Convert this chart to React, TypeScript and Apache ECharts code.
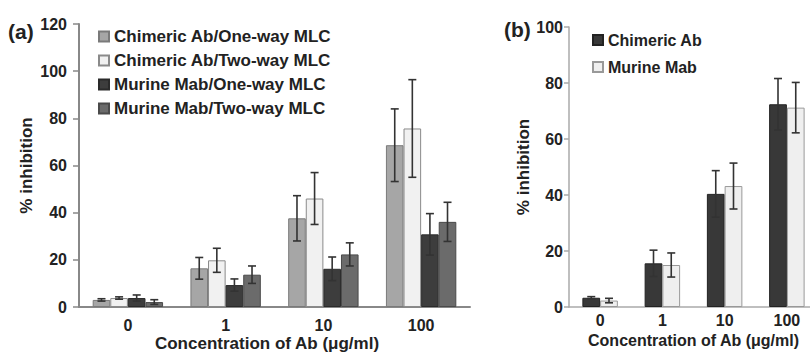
import React, { useEffect, useRef } from "react";
import * as echarts from "echarts";

const categories = ["0", "1", "10", "100"];

// Panel (a)
const chimericOneWay = [3.0, 16.4, 37.6, 68.6];
const chimericOneWayErr = [0.5, 4.6, 9.6, 15.4];
const chimericTwoWay = [3.8, 19.8, 46.0, 75.7];
const chimericTwoWayErr = [0.5, 5.1, 11.0, 20.7];
const murineOneWay = [3.8, 9.3, 16.2, 30.8];
const murineOneWayErr = [1.3, 2.6, 5.0, 8.8];
const murineTwoWay = [2.1, 13.7, 22.3, 36.1];
const murineTwoWayErr = [1.0, 3.7, 4.9, 8.3];

// Panel (b)
const chimericAb = [3.3, 15.6, 40.4, 72.4];
const chimericAbErr = [0.4, 4.7, 8.3, 9.2];
const murineMab = [2.3, 15.0, 43.2, 71.2];
const murineMabErr = [0.8, 4.3, 8.2, 9.0];

const FONT = "'Liberation Sans', Arial, Helvetica, sans-serif";
const TXT = "#222";

function errSeries(
  name: string,
  values: number[],
  errs: number[],
  idx: number,
  count: number,
  widthFrac: number,
  axisIndex: number
) {
  return {
    type: "custom",
    name,
    xAxisIndex: axisIndex,
    yAxisIndex: axisIndex,
    silent: true,
    z: 10,
    data: values.map((v, i) => [i, v - errs[i], v + errs[i]]),
    renderItem: (params: any, api: any) => {
      const ci = api.value(0);
      const band = api.size([1, 0])[0];
      const bw = band * widthFrac;
      const hi = api.coord([ci, api.value(2)]);
      const lo = api.coord([ci, api.value(1)]);
      const x = hi[0] + (idx - (count - 1) / 2) * bw;
      const cap = 4;
      const style = { stroke: "#333", lineWidth: 1.6, fill: "none" };
      return {
        type: "group",
        children: [
          { type: "line", shape: { x1: x, y1: hi[1], x2: x, y2: lo[1] }, style },
          { type: "line", shape: { x1: x - cap, y1: hi[1], x2: x + cap, y2: hi[1] }, style },
          { type: "line", shape: { x1: x - cap, y1: lo[1], x2: x + cap, y2: lo[1] }, style },
        ],
      };
    },
  };
}

function barSeries(
  name: string,
  values: number[],
  fill: string,
  border: string,
  widthFrac: number,
  axisIndex: number
) {
  return {
    type: "bar",
    name,
    xAxisIndex: axisIndex,
    yAxisIndex: axisIndex,
    data: values,
    barWidth: widthFrac * 100 + "%",
    barGap: "0%",
    itemStyle: { color: fill, borderColor: border, borderWidth: 1 },
  };
}

export default function App() {
  const ref = useRef<HTMLDivElement>(null);
  useEffect(() => {
    if (!ref.current) return;
    const chart = echarts.init(ref.current, undefined, { renderer: "svg" });
    const fa = 0.18;
    const fb = 0.285;
    const axisLabel = { color: TXT, fontWeight: "bold", fontSize: 16, fontFamily: FONT };
    const nameStyle = { color: TXT, fontWeight: "bold", fontSize: 17, fontFamily: FONT };
    chart.setOption({
      animation: false,
      backgroundColor: "#fff",
      textStyle: { fontFamily: FONT },
      graphic: [
        { type: "text", x: 8, y: 31, style: { text: "(a)", fontSize: 21, fontWeight: "bold", fontFamily: FONT, fill: TXT, verticalAlign: "middle" } },
        { type: "text", x: 504, y: 29, style: { text: "(b)", fontSize: 21, fontWeight: "bold", fontFamily: FONT, fill: TXT, verticalAlign: "middle" } },
      ],
      legend: [
        {
          orient: "vertical",
          left: 93,
          top: 23,
          itemWidth: 10,
          itemHeight: 10,
          itemGap: 7,
          icon: "rect",
          textStyle: { color: TXT, fontWeight: "bold", fontSize: 17, fontFamily: FONT, lineHeight: 16 },
          data: [
            "Chimeric Ab/One-way MLC",
            "Chimeric Ab/Two-way MLC",
            "Murine Mab/One-way MLC",
            "Murine Mab/Two-way MLC",
          ],
        },
        {
          orient: "vertical",
          left: 587,
          top: 27,
          itemWidth: 10,
          itemHeight: 10,
          itemGap: 11,
          icon: "rect",
          textStyle: { color: TXT, fontWeight: "bold", fontSize: 16, fontFamily: FONT, lineHeight: 16 },
          data: ["Chimeric Ab", "Murine Mab"],
        },
      ],
      grid: [
        { left: 79, right: 340, top: 24, bottom: 47, outerBoundsMode: "none", containLabel: false },
        { left: 569, right: -8, top: 27, bottom: 47, outerBoundsMode: "none", containLabel: false },
      ],
      xAxis: [
        {
          type: "category",
          gridIndex: 0,
          data: categories,
          axisLine: { lineStyle: { color: "#888", width: 2 } },
          axisTick: { length: 8, lineStyle: { color: "#888", width: 1.5 } },
          axisLabel: { ...axisLabel, margin: 10 },
          name: "Concentration of Ab (μg/ml)",
          nameLocation: "middle",
          nameGap: 28,
          nameMoveOverlap: false,
          nameTextStyle: { ...nameStyle, lineHeight: 17, padding: [0, 15, 0, 0] },
        },
        {
          type: "category",
          gridIndex: 1,
          data: categories,
          axisLine: { lineStyle: { color: "#aaa", width: 1.5 } },
          axisTick: { inside: true, length: 10, lineStyle: { color: "#999", width: 1.5 } },
          axisLabel: { ...axisLabel, margin: 5 },
          name: "Concentration of Ab (μg/ml)",
          nameLocation: "middle",
          nameGap: 24,
          nameTextStyle: { ...nameStyle, fontSize: 16 },
        },
      ],
      yAxis: [
        {
          type: "value",
          gridIndex: 0,
          min: 0,
          max: 120,
          interval: 20,
          splitLine: { show: false },
          axisLine: { show: true, lineStyle: { color: "#888", width: 2 } },
          axisTick: { show: true, length: 6, lineStyle: { color: "#888", width: 1.5 } },
          axisLabel: { ...axisLabel, margin: 12 },
          name: "% inhibition",
          nameLocation: "middle",
          nameGap: 44,
          nameRotate: 90,
          nameTextStyle: nameStyle,
        },
        {
          type: "value",
          gridIndex: 1,
          min: 0,
          max: 100,
          interval: 20,
          splitLine: { show: false },
          axisLine: { show: true, lineStyle: { color: "#aaa", width: 1.5 } },
          axisTick: { show: true, length: 5, lineStyle: { color: "#aaa", width: 1.5 } },
          axisLabel: { ...axisLabel, margin: 6 },
          name: "% inhibition",
          nameLocation: "middle",
          nameGap: 34,
          nameRotate: 90,
          nameTextStyle: nameStyle,
        },
      ],
      series: [
        barSeries("Chimeric Ab/One-way MLC", chimericOneWay, "#a6a6a6", "#7a7a7a", fa, 0),
        barSeries("Chimeric Ab/Two-way MLC", chimericTwoWay, "#f1f1f1", "#8a8a8a", fa, 0),
        barSeries("Murine Mab/One-way MLC", murineOneWay, "#3d3d3d", "#2a2a2a", fa, 0),
        barSeries("Murine Mab/Two-way MLC", murineTwoWay, "#6b6b6b", "#4a4a4a", fa, 0),
        errSeries("errA1", chimericOneWay, chimericOneWayErr, 0, 4, fa, 0),
        errSeries("errA2", chimericTwoWay, chimericTwoWayErr, 1, 4, fa, 0),
        errSeries("errA3", murineOneWay, murineOneWayErr, 2, 4, fa, 0),
        errSeries("errA4", murineTwoWay, murineTwoWayErr, 3, 4, fa, 0),
        barSeries("Chimeric Ab", chimericAb, "#383838", "#222", fb, 1),
        barSeries("Murine Mab", murineMab, "#efefef", "#999", fb, 1),
        errSeries("errB1", chimericAb, chimericAbErr, 0, 2, fb, 1),
        errSeries("errB2", murineMab, murineMabErr, 1, 2, fb, 1),
      ],
    });
    return () => chart.dispose();
  }, []);
  return (
    <div
      ref={ref}
      style={{ position: "fixed", left: 0, top: 0, width: 810, height: 354, background: "#fff" }}
    />
  );
}
